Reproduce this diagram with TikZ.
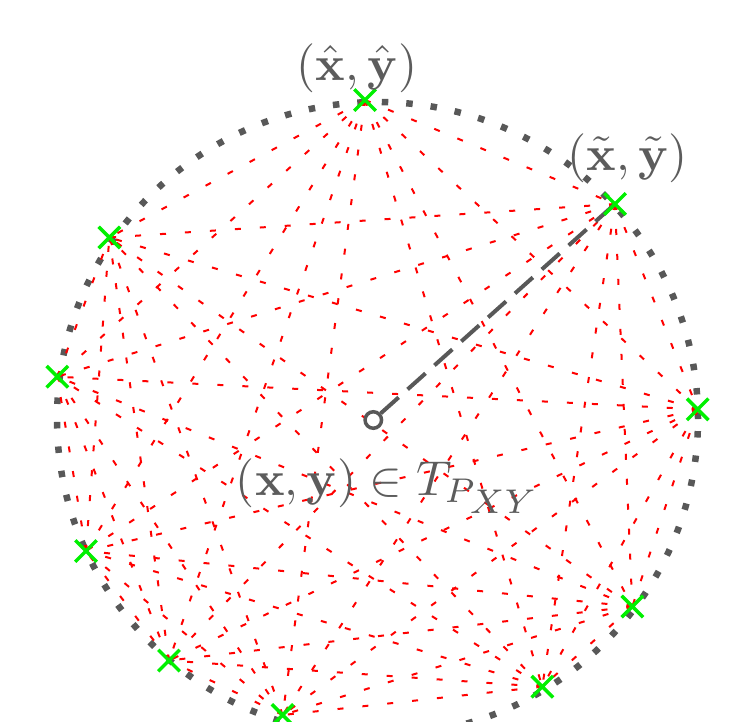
\documentclass[tikz,border=0pt]{standalone}
\usetikzlibrary{shapes.misc}
\definecolor{txtgray}{RGB}{92,92,92}
\definecolor{dotgray}{RGB}{88,88,88}
\definecolor{markgreen}{RGB}{0,240,0}
\tikzset{
  edge/.style={draw=red, line width=2pt, dash pattern=on 6pt off 19pt},
  rim/.style={draw=dotgray, line width=6.5pt, dash pattern=on 6.5pt off 18pt},
  crossmark/.style={cross out, draw=markgreen, line width=3.5pt, minimum size=18pt, inner sep=0pt},
  lbl/.style={text=txtgray, inner sep=0pt, anchor=base, scale=4.9, font=\fontsize{10}{12}\selectfont},
  centre/.style={circle, draw=dotgray, line width=3.5pt, fill=white, minimum size=16.5pt, inner sep=0pt},
  radius/.style={draw=dotgray, line width=4pt, dash pattern=on 24pt off 12pt}
}
\begin{document}
\begin{tikzpicture}[x=1pt,y=-1pt]
\useasboundingbox (0,0) rectangle (733,721);
\coordinate (c) at (377.5,419);
\draw[rim] (c) ellipse [x radius=320.5pt, y radius=317pt];
\coordinate (p1) at (365,100);
\coordinate (p2) at (615,204);
\coordinate (p3) at (697.7,409.3);
\coordinate (p4) at (632.3,606.5);
\coordinate (p5) at (542.3,686.7);
\coordinate (p6) at (282.7,715);
\coordinate (p7) at (169,660.5);
\coordinate (p8) at (86,551);
\coordinate (p9) at (57.3,376.7);
\coordinate (p10) at (109.3,237.5);
\foreach \i in {1,...,9}{
  \pgfmathtruncatemacro{\nxt}{\i+1}
  \foreach \j in {\nxt,...,10}{
    \draw[edge] (p\i) -- (p\j);
  }
}
\node[centre] (o) at (373.3,420) {};
\draw[radius] (o) -- (p2);
\foreach \i in {1,...,10}{
  \node[crossmark] (m\i) at (p\i) {};
}
\node[lbl] (l1) at (357,80) {$(\hat{\mathbf{x}},\hat{\mathbf{y}})$};
\node[lbl] (l2) at (627.5,170) {$(\tilde{\mathbf{x}},\tilde{\mathbf{y}})$};
\node[lbl, anchor=base west] (l3) at (235,495) {$(\mathbf{x},\mathbf{y})\in T_{P_{\scriptstyle XY}}$};
\end{tikzpicture}
\end{document}
